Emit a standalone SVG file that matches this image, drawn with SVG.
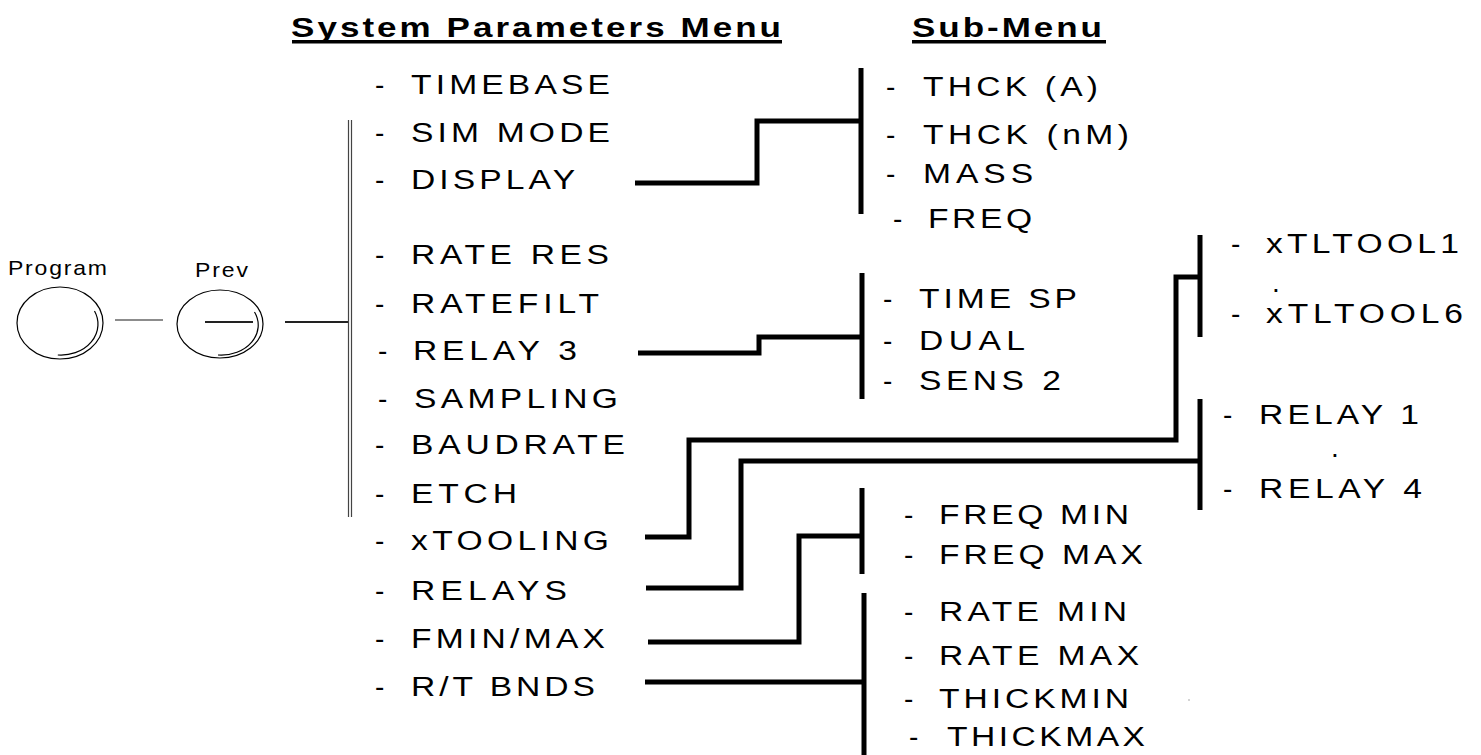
<svg xmlns="http://www.w3.org/2000/svg" width="1481" height="755" viewBox="0 0 1481 755">
<style>
text{font-family:"Liberation Sans",Arial,sans-serif;fill:#000}
.h{font-size:28px;font-weight:bold}
.t{font-size:28px}
.b{font-size:20px}
.c{fill:none;stroke:#000;stroke-width:5;stroke-linejoin:miter;stroke-linecap:butt}
.thin{fill:none;stroke:#000;stroke-width:1.2}
</style>
<rect width="1481" height="755" fill="#fff"/>
<g id="headings">
<text class="h" transform="matrix(1.25 0 0 1 291 0)" y="37" textLength="392">System Parameters Menu</text>
<rect x="292" y="40" width="490" height="3.5"/>
<text class="h" transform="matrix(1.25 0 0 1 912 0)" y="37" textLength="152">Sub-Menu</text>
<rect x="912" y="40" width="194" height="3.5"/>
</g>
<g id="program">
<text class="b" transform="matrix(1.15 0 0 1 8 0)" y="275" textLength="86">Program</text>
<ellipse class="thin" cx="60" cy="323" rx="43" ry="36"/>
<path class="thin" d="M94.5 311 A37 31 0 0 1 57.8 355"/>
</g>
<g id="prev">
<text class="b" transform="matrix(1.15 0 0 1 195 0)" y="277" textLength="46">Prev</text>
<ellipse class="thin" cx="220" cy="324" rx="43" ry="34"/>
<path class="thin" d="M254.5 312 A37 30 0 0 1 218 355"/>
<line x1="205" y1="322" x2="253" y2="322" stroke="#222" stroke-width="2"/>
</g>
<g id="main-menu">
<g id="m-timebase"><text class="t" x="375" y="94">-</text><text class="t" transform="matrix(1.2 0 0 1 411 0)" y="94" textLength="165.8">TIMEBASE</text></g>
<g id="m-simmode"><text class="t" x="375" y="142">-</text><text class="t" transform="matrix(1.2 0 0 1 411 0)" y="142" textLength="165.8">SIM MODE</text></g>
<g id="m-display"><text class="t" x="375" y="189">-</text><text class="t" transform="matrix(1.2 0 0 1 411 0)" y="189" textLength="136.7">DISPLAY</text></g>
<g id="m-rateres"><text class="t" x="375" y="264">-</text><text class="t" transform="matrix(1.2 0 0 1 411 0)" y="264" textLength="165">RATE RES</text></g>
<g id="m-ratefilt"><text class="t" x="375" y="313">-</text><text class="t" transform="matrix(1.2 0 0 1 411 0)" y="313" textLength="156.7">RATEFILT</text></g>
<g id="m-relay3"><text class="t" x="378" y="360">-</text><text class="t" transform="matrix(1.2 0 0 1 413 0)" y="360" textLength="136.7">RELAY 3</text></g>
<g id="m-sampling"><text class="t" x="378" y="408">-</text><text class="t" transform="matrix(1.2 0 0 1 414 0)" y="408" textLength="170">SAMPLING</text></g>
<g id="m-baudrate"><text class="t" x="375" y="454">-</text><text class="t" transform="matrix(1.2 0 0 1 411 0)" y="454" textLength="178.3">BAUDRATE</text></g>
<g id="m-etch"><text class="t" x="375" y="503">-</text><text class="t" transform="matrix(1.2 0 0 1 411 0)" y="503" textLength="88.3">ETCH</text></g>
<g id="m-xtooling"><text class="t" x="375" y="550">-</text><text class="t" transform="matrix(1.2 0 0 1 411 0)" y="550" textLength="165">xTOOLING</text></g>
<g id="m-relays"><text class="t" x="375" y="600">-</text><text class="t" transform="matrix(1.2 0 0 1 411 0)" y="600" textLength="130">RELAYS</text></g>
<g id="m-fminmax"><text class="t" x="375" y="648">-</text><text class="t" transform="matrix(1.2 0 0 1 411 0)" y="648" textLength="161.7">FMIN/MAX</text></g>
<g id="m-rtbnds"><text class="t" x="375" y="696">-</text><text class="t" transform="matrix(1.2 0 0 1 411 0)" y="696" textLength="153.3">R/T BNDS</text></g>
</g>
<g id="sub-display">
<text class="t" x="886" y="96">-</text><text class="t" transform="matrix(1.2 0 0 1 923 0)" y="96" textLength="145.8">THCK (A)</text>
<text class="t" x="886" y="144">-</text><text class="t" transform="matrix(1.2 0 0 1 923 0)" y="144" textLength="171.7">THCK (nM)</text>
<text class="t" x="886" y="183">-</text><text class="t" transform="matrix(1.2 0 0 1 923 0)" y="183" textLength="91.7">MASS</text>
<text class="t" x="893" y="228">-</text><text class="t" transform="matrix(1.2 0 0 1 928 0)" y="228" textLength="86.7">FREQ</text>
</g>
<g id="sub-relay3">
<text class="t" x="883" y="308">-</text><text class="t" transform="matrix(1.2 0 0 1 919 0)" y="308" textLength="131.7">TIME SP</text>
<text class="t" x="883" y="350">-</text><text class="t" transform="matrix(1.2 0 0 1 919 0)" y="350" textLength="88.3">DUAL</text>
<text class="t" x="883" y="390">-</text><text class="t" transform="matrix(1.2 0 0 1 919 0)" y="390" textLength="118.3">SENS 2</text>
</g>
<g id="sub-xtooling">
<text class="t" x="1231" y="253">-</text><text class="t" transform="matrix(1.2 0 0 1 1266 0)" y="253" textLength="160.8">xTLTOOL1</text>
<text class="t" x="1272" y="292" font-size="14">.</text>
<text class="t" x="1231" y="323">-</text><text class="t" transform="matrix(1.2 0 0 1 1266 0)" y="323" textLength="164.2">xTLTOOL6</text>
</g>
<g id="sub-relays">
<text class="t" x="1223" y="424">-</text><text class="t" transform="matrix(1.2 0 0 1 1259 0)" y="424" textLength="133.3">RELAY 1</text>
<text class="t" x="1331" y="457" font-size="14">.</text>
<text class="t" x="1223" y="498">-</text><text class="t" transform="matrix(1.2 0 0 1 1259 0)" y="498" textLength="135.8">RELAY 4</text>
</g>
<g id="sub-fminmax">
<text class="t" x="904" y="524">-</text><text class="t" transform="matrix(1.2 0 0 1 939 0)" y="524" textLength="158.3">FREQ MIN</text>
<text class="t" x="904" y="564">-</text><text class="t" transform="matrix(1.2 0 0 1 939 0)" y="564" textLength="170">FREQ MAX</text>
</g>
<g id="sub-rtbnds">
<text class="t" x="904" y="621">-</text><text class="t" transform="matrix(1.2 0 0 1 939 0)" y="621" textLength="156.7">RATE MIN</text>
<text class="t" x="904" y="665">-</text><text class="t" transform="matrix(1.2 0 0 1 939 0)" y="665" textLength="166.7">RATE MAX</text>
<text class="t" x="904" y="708">-</text><text class="t" transform="matrix(1.2 0 0 1 939 0)" y="708" textLength="158.3">THICKMIN</text>
<text class="t" x="909" y="746">-</text><text class="t" transform="matrix(1.2 0 0 1 947 0)" y="746" textLength="165">THICKMAX</text>
<circle cx="1189" cy="700" r="0.7" fill="#888"/>
</g>
<g id="connectors">
<line x1="115" y1="320" x2="163" y2="320" stroke="#666" stroke-width="1.5"/>
<line x1="285" y1="322" x2="349" y2="322" stroke="#222" stroke-width="2"/>
<line x1="348.5" y1="120" x2="348.5" y2="517" stroke="#444" stroke-width="1.2"/>
<line x1="351.5" y1="120" x2="351.5" y2="517" stroke="#444" stroke-width="1.2"/>
<path class="c" d="M635 183 H757 V121 H861"/>
<path class="c" d="M638 353 H759 V337 H862"/>
<path class="c" d="M645 537 H689 V440 H1176 V277 H1200"/>
<path class="c" d="M646 588 H741 V461 H1200"/>
<path class="c" d="M648 642 H799 V536 H862"/>
<path class="c" d="M645 682 H864"/>
<line class="c" x1="861" y1="68" x2="861" y2="214"/>
<line class="c" x1="862" y1="273" x2="862" y2="399"/>
<line class="c" x1="1200" y1="235" x2="1200" y2="337"/>
<line class="c" x1="1200" y1="399" x2="1200" y2="510"/>
<line class="c" x1="862" y1="488" x2="862" y2="574"/>
<line class="c" x1="864" y1="593" x2="864" y2="755"/>
</g>
</svg>
